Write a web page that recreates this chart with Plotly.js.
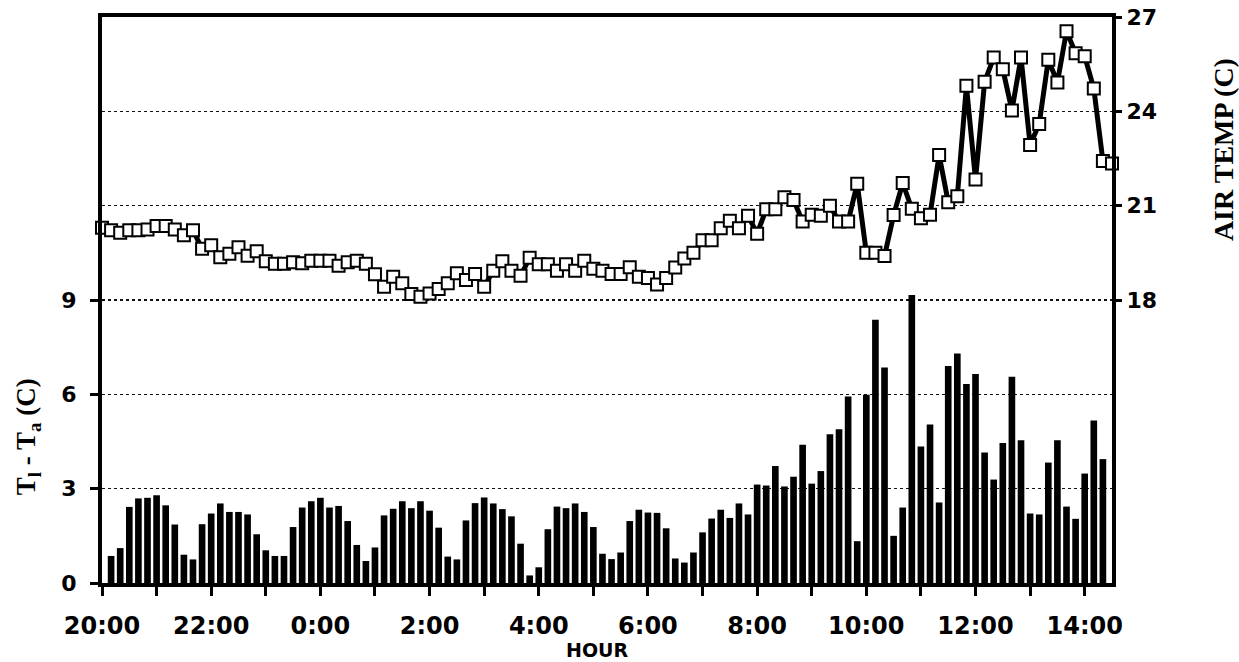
<!DOCTYPE html>
<html>
<head>
<meta charset="utf-8">
<script src="https://cdn.plot.ly/plotly-3.0.1.min.js"></script>
<style>
html,body{margin:0;padding:0;background:#fff;}
#chart{width:1239px;height:662px;}
</style>
</head>
<body>
<div id="chart"></div>
<script>
// Sampling grid: one reading every 10 minutes starting at 20:00
const stepMinutes = 10;
const hourTickLabels = ['20:00','22:00','0:00','2:00','4:00','6:00','8:00','10:00','12:00','14:00'];

// Leaf minus air temperature (C), bars, first reading at 20:10
const leafAirDiff = [
 0.86,1.11,2.42,2.69,2.71,2.79,2.47,1.86,0.90,0.75,
 1.87,2.21,2.53,2.26,2.26,2.18,1.55,1.04,0.86,0.86,
 1.78,2.40,2.60,2.71,2.40,2.45,1.97,1.21,0.70,1.13,
 2.15,2.36,2.60,2.38,2.60,2.30,1.76,0.84,0.75,1.99,
 2.54,2.72,2.53,2.35,2.12,1.25,0.24,0.50,1.71,2.43,
 2.38,2.53,2.26,1.78,0.93,0.76,0.97,1.97,2.33,2.24,
 2.23,1.74,0.78,0.65,0.97,1.61,2.05,2.33,2.07,2.53,
 2.18,3.13,3.10,3.72,3.07,3.38,4.40,3.16,3.56,4.73,
 4.89,5.93,1.33,5.99,8.37,6.85,1.50,2.40,9.16,4.34,
 5.04,2.56,6.90,7.30,6.33,6.65,4.15,3.29,4.45,6.56,
 4.54,2.21,2.18,3.83,4.54,2.43,2.04,3.48,5.17,3.94
];

// Air temperature (C), squares, first reading at 20:00
const airTemp = [
 20.30,20.22,20.14,20.22,20.22,20.24,20.35,20.35,20.24,20.06,
 20.22,19.63,19.74,19.36,19.47,19.68,19.41,19.55,19.23,19.15,
 19.15,19.20,19.17,19.25,19.25,19.25,19.09,19.20,19.25,19.15,
 18.82,18.42,18.74,18.53,18.19,18.10,18.21,18.35,18.53,18.85,
 18.64,18.83,18.42,18.93,19.23,18.93,18.77,19.34,19.14,19.14,
 18.93,19.14,18.93,19.25,18.99,18.93,18.83,18.83,19.04,18.74,
 18.70,18.49,18.70,19.03,19.32,19.50,19.90,19.90,20.28,20.52,
 20.28,20.68,20.11,20.89,20.89,21.27,21.18,20.50,20.71,20.68,
 21.00,20.50,20.50,21.70,19.50,19.50,19.40,20.70,21.72,20.90,
 20.60,20.71,22.61,21.11,21.30,24.81,21.83,24.94,25.71,25.34,
 24.03,25.71,22.93,23.60,25.64,24.92,26.55,25.85,25.75,24.73,
 22.42,22.34
];

const leftTicks = [0,3,6,9];
const rightTicks = [18,21,24,27];

// hours elapsed since 20:00
const tempX = airTemp.map((_, i) => i * stepMinutes / 60);
const diffX = leafAirDiff.map((_, i) => (i + 1) * stepMinutes / 60);

const hourTicks = [], hourText = [];
for (let h = 0; h <= 18; h++) {
  hourTicks.push(h);
  hourText.push(h % 2 === 0 ? hourTickLabels[h / 2] : '');
}

const sansBold = (size) => ({family:'DejaVu Sans, Liberation Sans, Arial, sans-serif', size:size, color:'#000', weight:'bold'});
const serifBold = (size) => ({family:'Liberation Serif, Times New Roman, serif', size:size, color:'#000', weight:'bold'});

const traces = [
  {
    type:'bar', x:diffX, y:leafAirDiff, yaxis:'y',
    marker:{color:'#000', line:{width:0}},
    hoverinfo:'skip'
  },
  {
    type:'scatter', mode:'lines+markers', x:tempX, y:airTemp, yaxis:'y2',
    line:{color:'#000', width:5},
    marker:{symbol:'square', size:12, color:'#fff', line:{color:'#000', width:2}},
    cliponaxis:false,
    hoverinfo:'skip'
  }
];

const gridStyle = {showgrid:true, gridcolor:'#111', griddash:'dot', gridwidth:1.6};

const layout = {
  width:1239, height:662,
  margin:{l:102, r:127, t:17, b:79},
  paper_bgcolor:'#fff', plot_bgcolor:'#fff',
  showlegend:false,
  bargap:0.27,
  xaxis:{
    range:[0, 18.5], tickmode:'array', tickvals:hourTicks, ticktext:hourText,
    ticks:'outside', ticklen:9, tickwidth:3, tickcolor:'#000',
    showline:true, linewidth:4, linecolor:'#000', mirror:true,
    showgrid:false, zeroline:false,
    tickfont:sansBold(24), ticklabelstandoff:9
  },
  yaxis:Object.assign({
    range:[0, 18], tickmode:'array', tickvals:leftTicks,
    ticks:'outside', ticklen:8, tickwidth:3, tickcolor:'#000',
    showline:true, linewidth:4, linecolor:'#000', mirror:true,
    zeroline:false, tickfont:sansBold(22), ticklabelstandoff:9
  }, gridStyle),
  yaxis2:Object.assign({
    range:[9, 27], overlaying:'y', side:'right', tickmode:'array', tickvals:rightTicks,
    ticks:'outside', ticklen:6, tickwidth:3, tickcolor:'#000',
    showline:true, linewidth:4, linecolor:'#000',
    zeroline:false, tickfont:sansBold(22), ticklabelstandoff:0
  }, gridStyle),
  annotations:[
    {xref:'paper', yref:'paper', x:0.49, y:-0.118, text:'HOUR',
     showarrow:false, font:sansBold(19), xanchor:'center', yanchor:'middle'},
    {xref:'paper', yref:'paper', x:-0.073, y:0.258, text:'T<sub>l</sub> - T<sub>a</sub> (C)',
     showarrow:false, textangle:-90, font:serifBold(27), xanchor:'center', yanchor:'middle'},
    {xref:'paper', yref:'paper', x:1.11, y:0.765, text:'AIR TEMP (C)',
     showarrow:false, textangle:-90, font:serifBold(28), xanchor:'center', yanchor:'middle'}
  ]
};

Plotly.newPlot('chart', traces, layout, {displayModeBar:false, staticPlot:true});
</script>
</body>
</html>
